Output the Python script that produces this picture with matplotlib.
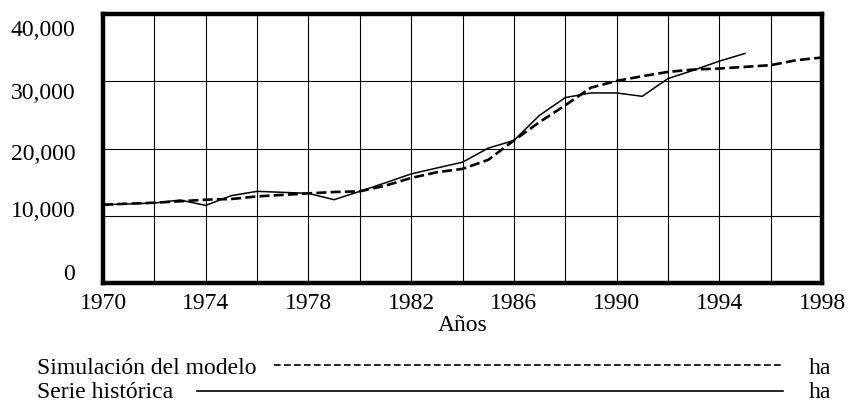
import matplotlib
matplotlib.use("Agg")
import matplotlib.pyplot as plt
import matplotlib.transforms as mtransforms
from matplotlib.lines import Line2D

plt.rcParams['font.family'] = ['Liberation Serif', 'DejaVu Serif']

# simulated series (dashed), 1970-1998
sim_years = list(range(1970, 1999))
sim_ha = [11640, 11800, 11940, 12150, 12390, 12490, 12880, 13100, 13330, 13530,
          13630, 14480, 15620, 16470, 16970, 18310, 21190, 23930, 26420, 29050,
          30050, 30750, 31390, 31740, 31890, 32140, 32390, 33130, 33530]

# historical series (solid), 1970-1995
hist_years = list(range(1970, 1996))
hist_ha = [11640, 11760, 11890, 12340, 11540, 12990, 13630, 13480, 13330, 12390,
           13630, 14900, 16220, 17100, 17960, 20050, 21190, 24930, 27570, 28260,
           28260, 27760, 30400, 31640, 32990, 34130]

x_ticks = [1970, 1974, 1978, 1982, 1986, 1990, 1994, 1998]
y_ticks = [0, 10000, 20000, 30000, 40000]
y_labels = ['0', '10,000', '20,000', '30,000', '40,000']
legend_names = ['Simulación del modelo', 'Serie histórica']
unit = 'ha'

fs = 17
fig = plt.figure(figsize=(8.48, 4.05), dpi=100)
ax = fig.add_axes([103/848, 1 - 283/405, 719/848, 269/405])

ax.plot(hist_years, hist_ha, color='black', lw=1.1, solid_joinstyle='miter')
ax.plot(sim_years, sim_ha, color='black', lw=1.9, dashes=(3.8, 1.6))

ax.set_xlim(1970, 1998)
ax.set_ylim(0, 40000)
ax.set_xticks(x_ticks)
ax.set_xticks(range(1970, 1999, 2), minor=True)
ax.set_yticks(y_ticks)
ax.set_yticklabels(y_labels)
ax.grid(True, which='both', axis='x', color='black', lw=0.8)
ax.grid(True, axis='y', color='black', lw=0.8)
ax.tick_params(axis='both', which='both', length=0, labelsize=fs)
ax.tick_params(axis='y', pad=20)
ax.tick_params(axis='x', pad=7)
for s in ax.spines.values():
    s.set_linewidth(3.2)

# the y labels sit a bit off the grid lines in the original
shifts = [-11, -7, 4, 9.5, 14]
for lab, d in zip(ax.get_yticklabels(), shifts):
    lab.set_transform(lab.get_transform() +
                      mtransforms.ScaledTranslation(0, -d / 100, fig.dpi_scale_trans))

ax.set_xlabel('Años', fontsize=fs, labelpad=1)

# legend below the chart
fig.text(37/848, 1 - 369/405, legend_names[0], fontsize=fs, va='center')
fig.text(37/848, 1 - 392/405, legend_names[1], fontsize=fs, va='center')
fig.add_artist(Line2D([274/848, 783/848], [1 - 365/405] * 2, color='black',
                      lw=1.2, dashes=(4, 2), transform=fig.transFigure))
fig.add_artist(Line2D([197/848, 783/848], [1 - 391/405] * 2, color='black',
                      lw=1.2, transform=fig.transFigure))
fig.text(809/848, 1 - 369/405, unit, fontsize=fs, va='center')
fig.text(809/848, 1 - 392/405, unit, fontsize=fs, va='center')

fig.savefig('out.png', dpi=100)
